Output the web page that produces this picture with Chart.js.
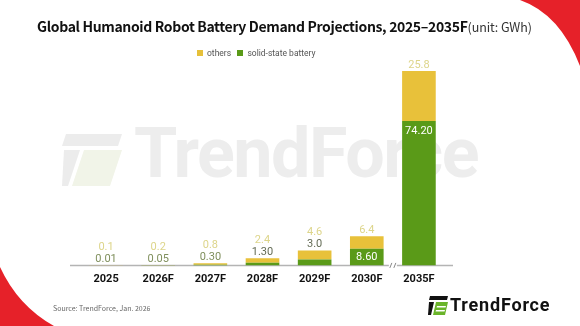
<!DOCTYPE html>
<html>
<head>
<meta charset="utf-8">
<script src="https://cdn.jsdelivr.net/npm/chart.js@4"></script>
<style>
  html, body { margin: 0; padding: 0; background: #fff; }
  #wrap { position: relative; width: 580px; height: 326px; overflow: hidden; background: #fff; }
  #chart { position: absolute; left: 0; top: 0; z-index: 2; }
  .abs { position: absolute; white-space: nowrap; }
  #title { left: 37px; top: 16px; font-family: "Noto Sans CJK SC", "Noto Sans", sans-serif; font-weight: 700; font-size: 14px; letter-spacing: -0.35px; color: #111; z-index: 3; }
  #title span { font-weight: 400; font-size: 12.5px; letter-spacing: -0.1px; color: #333; }
  #legend { left: 197px; top: 47.5px; font-family: Roboto, sans-serif; font-size: 8.5px; color: #555; z-index: 3; }
  #legend i { display: inline-block; width: 6px; height: 6px; margin-right: 4px; vertical-align: 0px; }
  #source { left: 53px; top: 303px; font-family: "Noto Sans CJK SC", sans-serif; font-size: 7px; color: #666; z-index: 3; }
  #logo { left: 450px; top: 294px; font-family: Roboto, sans-serif; font-weight: 700; font-size: 18px; letter-spacing: 0.8px; color: #111; z-index: 3; }
  #wm { left: 134px; top: 112px; font-family: Roboto, sans-serif; font-weight: 700; font-size: 70px; color: #ededed; z-index: 1; letter-spacing: -1.5px; }
</style>
</head>
<body>
<div id="wrap">
  <svg class="abs" style="left:0;top:0;z-index:0" width="580" height="326">
    <path d="M520,0 Q560,14 580,66 L580,0 Z" fill="#e62129"/>
    <path d="M0,267 Q18,306 54,326 L0,326 Z" fill="#e62129"/>
    <!-- faded watermark icon -->
    <path d="M66,134 L122,134 L118,146 L62,146 Z" fill="#ececec"/>
    <path d="M64,150 L80,150 L68,186 L62,186 Z" fill="#ececec"/>
    <path d="M84,150 L122,150 L110,186 L72,186 Z" fill="#f1f4e8"/>
  </svg>
  <div id="wm" class="abs">TrendForce</div>
  <div id="title" class="abs">Global Humanoid Robot Battery Demand Projections, 2025–2035F<span>(unit: GWh)</span></div>
  <div id="legend" class="abs"><i style="background:#e6c03a"></i>others&nbsp;&nbsp;&nbsp;<i style="background:#5a9a18"></i>solid-state battery</div>
  <div id="source" class="abs">Source: TrendForce, Jan. 2026</div>
  <svg class="abs" style="left:428px;top:296px;z-index:3" width="20" height="19">
    <path d="M2,0 L20,0 L19,4 L1,4 Z" fill="#111"/>
    <path d="M1,6 L6,6 L3,19 L0,19 Z" fill="#111"/>
    <path d="M8,6 L20,6 L17,19 L5,19 Z" fill="#6ab42a"/>
    <path d="M9,10 L18,10 L17.5,11.5 L8.5,11.5 Z" fill="#fff"/>
    <path d="M8,14 L17,14 L16.5,15.5 L7.5,15.5 Z" fill="#fff"/>
  </svg>
  <div id="logo" class="abs">TrendForce</div>
  <canvas id="chart" width="580" height="326"></canvas>
</div>
<script>
'use strict'

var categories = ['2025', '2026F', '2027F', '2028F', '2029F', '2030F', '2035F'];
var solidState = [0.01, 0.05, 0.30, 1.30, 3.0, 8.60, 74.20];
var others = [0.1, 0.2, 0.8, 2.4, 4.6, 6.4, 25.8];
var solidStateText = ['0.01', '0.05', '0.30', '1.30', '3.0', '8.60', '74.20'];
var othersText = ['0.1', '0.2', '0.8', '2.4', '4.6', '6.4', '25.8'];

var green = '#5a9a18';
var yellow = '#e8c13a';

// value labels + baseline with break mark
var labelPlugin = {
  id: 'labels',
  beforeDatasetsDraw: function(chart) {
    var c = chart.ctx;
    var y = chart.chartArea.bottom;
    c.save();
    c.strokeStyle = '#b4b4b4';
    c.lineWidth = 1.5;
    c.beginPath();
    c.moveTo(70, y);
    c.lineTo(453, y);
    c.stroke();
    var m = chart.getDatasetMeta(0).data;
    var bx = (m[5].x + m[6].x) / 2;
    c.fillStyle = '#fff';
    c.fillRect(bx - 4, y - 3, 8, 6);
    c.strokeStyle = '#888';
    c.lineWidth = 1;
    c.beginPath();
    c.moveTo(bx - 3, y + 2.5); c.lineTo(bx - 1, y - 2.5);
    c.moveTo(bx + 1, y + 2.5); c.lineTo(bx + 3, y - 2.5);
    c.stroke();
    c.restore();
  },
  afterDatasetsDraw: function(chart) {
    var c = chart.ctx;
    var g = chart.getDatasetMeta(0).data;
    var o = chart.getDatasetMeta(1).data;
    c.save();
    c.font = '11px Roboto';
    c.textAlign = 'center';
    c.textBaseline = 'middle';
    for (var i = 0; i < categories.length; i++) {
      var top = o[i].y;
      var h = g[i].base - g[i].y;
      if (h > 14) {
        c.fillStyle = '#ffffff';
        c.fillText(solidStateText[i], g[i].x, g[i].y + Math.min(h / 2, 10));
        c.fillStyle = '#ddd58a';
        c.fillText(othersText[i], o[i].x, top - 6);
      } else {
        c.fillStyle = i >= 3 ? '#636b55' : '#7f8f5c';
        c.fillText(solidStateText[i], g[i].x, top - 6);
        c.fillStyle = '#ddd58a';
        c.fillText(othersText[i], o[i].x, top - 18);
      }
    }
    c.restore();
  }
};

var ctx = document.getElementById('chart');
var mychart = new Chart(ctx, {
  type: 'bar',
  data: {
    labels: categories,
    datasets: [{
      label: 'solid-state battery',
      data: solidState,
      backgroundColor: green,
      borderWidth: 0
    }, {
      label: 'others',
      data: others,
      backgroundColor: yellow,
      borderWidth: 0
    }]
  },
  options: {
    responsive: false,
    animation: false,
    devicePixelRatio: 1,
    datasets: { bar: { categoryPercentage: 1, barPercentage: 0.645 } },
    layout: { padding: { left: 80, right: 135, top: 51.5, bottom: 33.4 } },
    plugins: {
      legend: { display: false },
      title: { display: false },
      tooltip: { enabled: false }
    },
    scales: {
      x: {
        stacked: true,
        grid: { display: false, drawTicks: false },
        border: { display: false },
        ticks: { padding: 7, color: '#111', font: { family: 'Roboto', size: 11, weight: 'bold' } }
      },
      y: {
        stacked: true,
        display: false,
        min: 0,
        max: 110
      }
    }
  },
  plugins: [labelPlugin]
});
</script>
</body>
</html>
